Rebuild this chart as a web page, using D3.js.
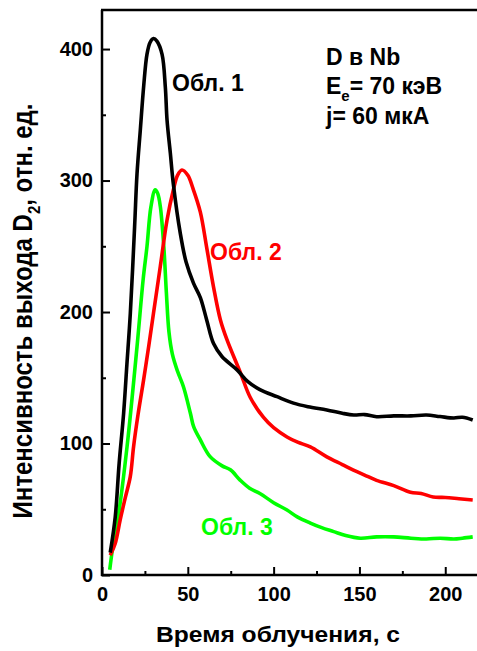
<!DOCTYPE html>
<html><head><meta charset="utf-8">
<script src="https://cdn.jsdelivr.net/npm/d3@7/dist/d3.min.js"></script>
<style>
html,body{margin:0;padding:0;background:#fff;}
text{font-family:"Liberation Sans",Arial,sans-serif;font-weight:bold;}
</style></head><body>
<svg id="c" width="477" height="651"></svg>
<script>
// Data (time, s  /  intensity, rel. units)
const t1 = [4.8, 7.7, 10, 12.6, 14.5, 16.5, 19, 20.4, 22.3, 24.3, 26.2, 28, 30, 32, 35, 36.9, 37.9, 39.8, 41.6, 45.6, 49, 53.3, 57.3, 61, 65, 70, 78.7, 85, 92, 102, 111.6, 120, 131, 140, 146.7, 153, 160, 170, 180, 189, 197, 205, 210, 216];
const v1 = [17, 44, 85, 123, 160, 199, 265, 305, 338, 372, 396, 405, 408, 406, 396, 371, 346, 321, 297, 260, 238, 222, 211, 194, 176, 166, 156, 147, 141, 135.6, 130.7, 128, 125.5, 123, 121.7, 122, 120.4, 121, 121, 121.7, 120.5, 119.4, 120, 117.9];
const t2 = [4.8, 7.7, 10.6, 13.6, 16.5, 18.4, 21, 24.2, 27, 30, 34, 37.9, 41.6, 44, 46.6, 50, 53, 57.3, 61, 65, 69, 72.8, 80.6, 86.4, 94, 100, 107.8, 114, 121.4, 131, 140, 146.5, 153, 160, 170, 179.7, 186, 193, 200, 208, 216];
const v2 = [15, 24, 42, 59, 75, 97.6, 122, 148, 172, 199, 235, 270, 293, 304, 308, 304, 294, 276, 249, 219, 194, 179, 154, 135, 120, 112, 105, 101, 97.4, 89.8, 84, 79.8, 76, 72, 68, 63, 62, 59.3, 59, 58, 57];
const t3 = [4.5, 7.7, 9.7, 14.6, 20.4, 24, 26.2, 28.5, 31, 32.5, 34, 36, 37.5, 39, 41, 44, 47.5, 51.5, 53.4, 57.3, 63, 70, 74.8, 80.6, 86, 92, 100, 107.8, 114, 121.4, 128, 135, 142, 150.5, 160, 170, 180, 189, 197, 205, 210, 216];
const v3 = [4, 34, 47, 97.6, 173.6, 225, 249.7, 280, 293, 290, 280, 250, 215, 185, 168, 155, 143, 123, 112.8, 102.7, 90, 83, 80, 72, 66, 62, 55, 49.4, 44, 39.5, 36, 33, 30, 28, 29, 29, 28, 27.4, 28, 27.4, 28, 29];
const seriesNames = ["Обл. 1", "Обл. 2", "Обл. 3"];
const xMajor = [0, 50, 100, 150, 200];
const xMinor = [25, 75, 125, 175];
const yMajor = [0, 100, 200, 300, 400];
const yMinor = [50, 150, 250, 350];

const svg = d3.select("#c");
const x = d3.scaleLinear().domain([0, 218.5]).range([102, 477]);
const y = d3.scaleLinear().domain([0, 429.7]).range([575, 10]);

const series = [
  {t: t1, v: v1, color: "#000000"},
  {t: t2, v: v2, color: "#ff0000"},
  {t: t3, v: v3, color: "#00ff00"}
];
const line = d3.line().x(d => x(d[0])).y(d => y(d[1])).curve(d3.curveCatmullRom.alpha(0.5));
[series[2], series[1], series[0]].forEach(s => {
  svg.append("path").datum(s.t.map((tt, i) => [tt, s.v[i]]))
    .attr("d", line).attr("fill", "none").attr("stroke", s.color)
    .attr("stroke-width", 3.6).attr("stroke-linejoin", "round");
});

// Axes
const gx = svg.append("g").attr("transform", "translate(0,575)");
gx.call(d3.axisBottom(x).tickValues(xMajor).tickSize(-8).tickPadding(12).tickFormat(d3.format("d")));
const gxm = svg.append("g").attr("transform", "translate(0,575)");
gxm.call(d3.axisBottom(x).tickValues(xMinor).tickSize(-4).tickFormat(""));
const gy = svg.append("g").attr("transform", "translate(102,0)");
gy.call(d3.axisLeft(y).tickValues(yMajor).tickSize(-8).tickPadding(9).tickFormat(d3.format("d")));
const gym = svg.append("g").attr("transform", "translate(102,0)");
gym.call(d3.axisLeft(y).tickValues(yMinor).tickSize(-4).tickFormat(""));
[gx, gxm, gy, gym].forEach(g => {
  g.select(".domain").remove();
  g.selectAll("line").attr("stroke", "#000").attr("stroke-width", 2);
  g.selectAll("text").attr("fill", "#000").style("font-size", "20px").style("font-family", "'Liberation Sans',Arial,sans-serif").style("font-weight", "bold");
});
// frame lines
svg.append("line").attr("x1", 102).attr("x2", 102).attr("y1", 10).attr("y2", 576).attr("stroke", "#000").attr("stroke-width", 2.5);
svg.append("line").attr("x1", 101).attr("x2", 477).attr("y1", 575).attr("y2", 575).attr("stroke", "#000").attr("stroke-width", 2.5);
svg.append("line").attr("x1", 101).attr("x2", 477).attr("y1", 10).attr("y2", 10).attr("stroke", "#000").attr("stroke-width", 2.5);

// axis titles
svg.append("text").attr("transform", "translate(278,642) scale(1.12,1)").attr("text-anchor", "middle").style("font-size", "22px").text("Время облучения, с");
const yt = svg.append("text").attr("transform", "translate(32,311) scale(1.16,1) rotate(-90)").attr("text-anchor", "middle").style("font-size", "24px");
yt.append("tspan").text("Интенсивность выхода D");
yt.append("tspan").attr("dy", 7).style("font-size", "15px").text("2");
yt.append("tspan").attr("dy", -7).text(", отн. ед.");

// series labels
svg.append("text").attr("x", 172).attr("y", 91).style("font-size", "23px").attr("fill", "#000").text(seriesNames[0]);
svg.append("text").attr("x", 210).attr("y", 260).style("font-size", "23px").attr("fill", "#ff0000").text(seriesNames[1]);
svg.append("text").attr("x", 201).attr("y", 535).style("font-size", "23px").attr("fill", "#00ff00").text(seriesNames[2]);

// annotation
const ann = svg.append("g").style("font-size", "23px");
ann.append("text").attr("x", 326).attr("y", 65).text("D в Nb");
const e = ann.append("text").attr("x", 326).attr("y", 93.5);
e.append("tspan").text("E");
e.append("tspan").attr("dy", 7).style("font-size", "15px").text("e");
e.append("tspan").attr("dy", -7).text("= 70 кэВ");
ann.append("text").attr("x", 326).attr("y", 124).text("j= 60 мкА");
</script></body></html>
